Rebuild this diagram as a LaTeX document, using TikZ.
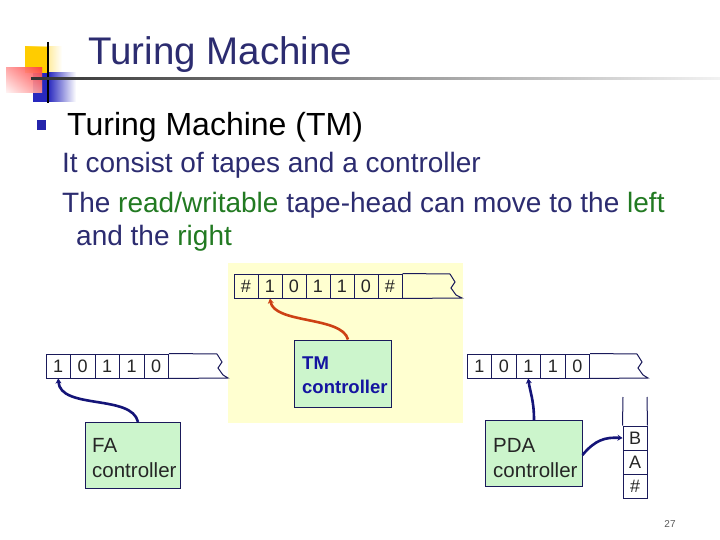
\documentclass[tikz,border=0pt]{standalone}
\usepackage{fontspec}
\setmainfont{Liberation Sans}
\usetikzlibrary{arrows.meta}
\definecolor{navy}{RGB}{44,44,112}
\definecolor{tgreen}{RGB}{34,122,34}
\definecolor{linec}{RGB}{26,26,90}
\definecolor{boxfill}{RGB}{204,245,204}
\definecolor{tmyellow}{RGB}{255,255,208}
\definecolor{tmblue}{RGB}{20,20,160}
\definecolor{arrblue}{RGB}{20,20,120}
\definecolor{arrred}{RGB}{205,65,20}
\definecolor{decyellow}{RGB}{255,204,0}
\definecolor{decblue}{RGB}{40,40,190}
\tikzset{
  cell/.style={draw=linec, line width=1pt, minimum width=24.5pt, minimum height=24pt, inner sep=0pt, font=\fontsize{18}{18}\selectfont, text=black!85},
  ctrl/.style={draw=linec, line width=1pt, fill=boxfill, inner sep=0pt},
  ctrltext/.style={anchor=base west, inner sep=0pt, font=\fontsize{20.5}{20.5}\selectfont, text=black!85},
  tmtext/.style={anchor=base west, inner sep=0pt, font=\fontsize{18.5}{18.5}\selectfont\bfseries, text=tmblue},
  tapeline/.style={draw=linec, line width=1pt},
  conn/.style={line width=2.6pt, -{Stealth[length=5pt,width=6pt]}},
}
\begin{document}
\begin{tikzpicture}[x=1pt,y=-1pt]
\useasboundingbox (0,0) rectangle (720,540);
\fill[white] (0,0) rectangle (720,540);
% decoration
\shade[left color=decyellow, right color=white] (25,47) rectangle (62,73);
\fill[decyellow] (25,47) rectangle (48,73);
\shade[left color=decblue, right color=white] (48,73) rectangle (76,102);
\fill[decblue] (33,73) rectangle (48,102);
\shade[top color=red!80, bottom color=red!8, opacity=0.85] (6,68) rectangle (42,93);
\shade[left color=white, right color=red!70, opacity=0.5] (6,68) rectangle (42,93);
\draw[black, line width=1.5pt] (48,42) -- (48,103);
\shade[left color=black!80, right color=black!5] (31,78) rectangle (720,80);
% title texts
\node[anchor=base west, inner sep=0pt, font=\fontsize{38.5}{38.5}\selectfont, text=navy] (title) at (88,65) {Turing Machine};
\fill[decblue!90!black] (37,120) rectangle (46,130);
\node[anchor=base west, inner sep=0pt, font=\fontsize{32}{32}\selectfont, text=black] (sub) at (67,136) {Turing Machine (TM)};
\node[anchor=base west, inner sep=0pt, font=\fontsize{28}{28}\selectfont, text=navy] (l1) at (62,173) {It consist of tapes and a controller};
\node[anchor=base west, inner sep=0pt, font=\fontsize{28}{28}\selectfont, text=navy] (l2) at (62,212) {The \textcolor{tgreen}{read/writable} tape-head can move to the \textcolor{tgreen}{left}};
\node[anchor=base west, inner sep=0pt, font=\fontsize{28}{28}\selectfont, text=navy] (l3) at (76,245) {and the \textcolor{tgreen}{right}};
% TM area
\fill[tmyellow] (228,263) rectangle (463,423);
\foreach \s [count=\i from 0] in {\#,1,0,1,1,0,\#} {
  \node[cell, minimum width=24pt] (tm\i) at (246+24*\i,286) {\s};
}
\draw[tapeline] (tm6.north east) -- (450,274) -- (455,282) -- (451,288) -- (456,295) -- (462,298) -- (tm6.south east);
\node[ctrl, minimum width=97pt, minimum height=67pt] (tmc) at (342.5,373.5) {};
\node[tmtext] (tmc1) at (302,369) {TM};
\node[tmtext] (tmc2) at (302,393) {controller};
\draw[conn, draw=arrred] (tmc.north) ++(5.5,0) coordinate (tms) .. controls (342,316) and (274,324) .. (tm1.south);
% FA
\foreach \s [count=\i from 0] in {1,0,1,1,0} {
  \node[cell] (fa\i) at (58.25+24.5*\i,366) {\s};
}
\draw[tapeline] (fa4.north east) -- (217,354) -- (222,362) -- (218,368) -- (223,375) -- (228,378) -- (fa4.south east);
\node[ctrl, minimum width=95pt, minimum height=66pt] (fac) at (132.5,455) {};
\node[ctrltext] (fac1) at (92,452) {FA};
\node[ctrltext] (fac2) at (92,477) {controller};
\draw[conn, draw=arrblue] (138,422) .. controls (132,394) and (60,410) .. (fa0.south);
% PDA
\foreach \s [count=\i from 0] in {1,0,1,1,0} {
  \node[cell] (pd\i) at (479.25+24.5*\i,366) {\s};
}
\draw[tapeline] (pd4.north east) -- (637,354) -- (642,362) -- (638,368) -- (643,375) -- (648,378) -- (pd4.south east);
\node[ctrl, minimum width=97pt, minimum height=66pt] (pdc) at (533.5,453) {};
\node[ctrltext] (pdc1) at (493,452) {PDA};
\node[ctrltext] (pdc2) at (493,477) {controller};
% stack
\node[cell, minimum width=24pt] (sb) at (635,438) {B};
\node[cell, minimum width=24pt] (sa) at (635,462) {A};
\node[cell, minimum width=24pt] (sh) at (635,486) {\#};
\coordinate (stl) at (623,397);
\coordinate (str) at (647,397);
\draw[tapeline] (stl) -- (sb.north west);
\draw[tapeline] (str) -- (sb.north east);
\draw[conn, draw=arrblue] (534,420) .. controls (534,400) and (530,392) .. (pd2.south);
\draw[conn, draw=arrblue] (pdc.east) ++(0,2) .. controls (595,440) and (605,437) .. (sb.west);
% page number
\node[anchor=base, inner sep=0pt, font=\fontsize{10}{10}\selectfont, text=black!65] (pg) at (670,527) {27};
\end{tikzpicture}
\end{document}
